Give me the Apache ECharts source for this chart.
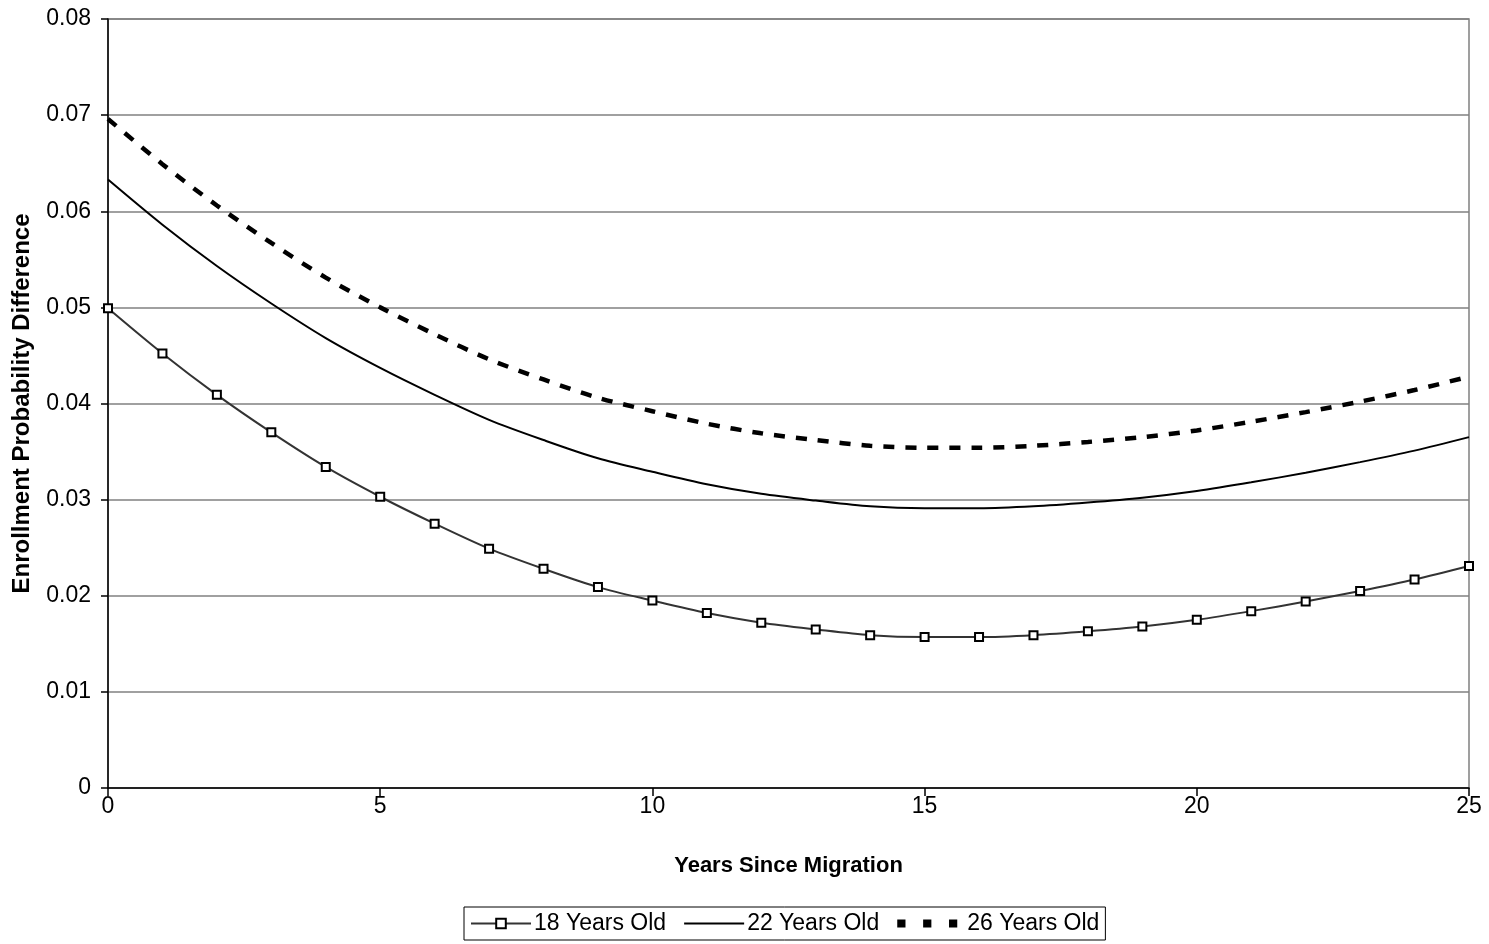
<!DOCTYPE html>
<html>
<head>
<meta charset="utf-8">
<script src="https://cdn.jsdelivr.net/npm/echarts@6/dist/echarts.min.js"></script>
<style>
html,body{margin:0;padding:0;background:#fff;}
#chart{width:1489px;height:944px;}
</style>
</head>
<body>
<div id="chart"></div>
<script>
const years = [0,1,2,3,4,5,6,7,8,9,10,11,12,13,14,15,16,17,18,19,20,21,22,23,24,25];
const age18 = [0.0499,0.0452,0.0409,0.0370,0.0334,0.0303,0.0275,0.0249,0.0228,0.0209,0.0195,0.0182,0.0172,0.0165,0.0159,0.0157,0.0157,0.0159,0.0163,0.0168,0.0175,0.0184,0.0194,0.0205,0.0217,0.0231];
const age22 = [0.0633,0.0586,0.0543,0.0504,0.0468,0.0437,0.0409,0.0383,0.0362,0.0343,0.0329,0.0316,0.0306,0.0299,0.0293,0.0291,0.0291,0.0293,0.0297,0.0302,0.0309,0.0318,0.0328,0.0339,0.0351,0.0365];
const age26 = [0.0696,0.0649,0.0606,0.0567,0.0531,0.0500,0.0472,0.0446,0.0425,0.0406,0.0392,0.0379,0.0369,0.0362,0.0356,0.0354,0.0354,0.0356,0.0360,0.0365,0.0372,0.0381,0.0391,0.0402,0.0414,0.0428];
const seriesNames = ['18 Years Old','22 Years Old','26 Years Old'];
const xTitle = 'Years Since Migration';
const yTitle = 'Enrollment Probability Difference';

const pairs = arr => years.map((x, i) => [x, arr[i]]);
const font = 'Arial, "Liberation Sans", sans-serif';

const solidIcon = 'path://M0,0 L60,0 L60,2 L0,2 Z';
const dashIcon = 'path://M0,0 L7,0 L7,7 L0,7 Z M22,0 L29,0 L29,7 L22,7 Z M44,0 L51,0 L51,7 L44,7 Z';

const chart = echarts.init(document.getElementById('chart'), null, {renderer: 'canvas'});
chart.setOption({
  animation: false,
  backgroundColor: '#fff',
  grid: {left: 108, right: 20, top: 19, bottom: 156, show: true, borderColor: '#808080', borderWidth: 1.5},
  xAxis: {
    type: 'value', min: 0, max: 25, interval: 5,
    name: xTitle, nameLocation: 'middle', nameGap: 67,
    nameTextStyle: {fontFamily: font, fontSize: 22, fontWeight: 'bold', color: '#000'},
    axisLine: {show: true, onZero: false, lineStyle: {color: '#000', width: 1.5}},
    axisTick: {show: true, inside: false, length: 8, lineStyle: {color: '#000', width: 1.5}},
    axisLabel: {fontFamily: font, fontSize: 23, color: '#000', margin: 7},
    splitLine: {show: false}
  },
  yAxis: {
    type: 'value', min: 0, max: 0.08, interval: 0.01,
    name: yTitle, nameLocation: 'middle', nameGap: 74, nameRotate: 90,
    nameTextStyle: {fontFamily: font, fontSize: 24, fontWeight: 'bold', color: '#000'},
    axisLine: {show: true, lineStyle: {color: '#000', width: 1.5}},
    axisTick: {show: true, inside: false, length: 7, lineStyle: {color: '#000', width: 1.5}},
    axisLabel: {fontFamily: font, fontSize: 23, color: '#000', margin: 17,
      formatter: v => (Math.round(v * 100) / 100).toString()},
    splitLine: {show: true, lineStyle: {color: '#808080', width: 1.5}}
  },
  legend: {
    left: 464, top: 907,
    data: [
      {name: seriesNames[0]},
      {name: seriesNames[1], icon: solidIcon},
      {name: seriesNames[2], icon: dashIcon,
        textStyle: {fontFamily: font, fontSize: 23, color: '#000', padding: [0, 0, 0, 5]}}
    ],
    orient: 'horizontal',
    borderColor: '#000', borderWidth: 1, borderRadius: 0,
    padding: [5, 6, 5, 6],
    itemGap: 18, itemWidth: 60, itemHeight: 12,
    textStyle: {fontFamily: font, fontSize: 23, color: '#000', padding: [0, 0, 0, -2]}
  },
  series: [
    {
      name: seriesNames[0], type: 'line', data: pairs(age18), smooth: 0.3,
      symbol: 'rect', symbolSize: 8, showAllSymbol: true,
      itemStyle: {color: '#fff', borderColor: '#000', borderWidth: 2},
      lineStyle: {color: '#333', width: 2},
      z: 3
    },
    {
      name: seriesNames[1], type: 'line', data: pairs(age22), smooth: 0.3,
      symbol: 'none',
      itemStyle: {color: '#000'},
      lineStyle: {color: '#000', width: 2}
    },
    {
      name: seriesNames[2], type: 'line', data: pairs(age26), smooth: 0.3,
      symbol: 'none',
      itemStyle: {color: '#000'},
      lineStyle: {color: '#000', width: 4.5, type: [11, 11]}
    }
  ]
});
</script>
</body>
</html>
